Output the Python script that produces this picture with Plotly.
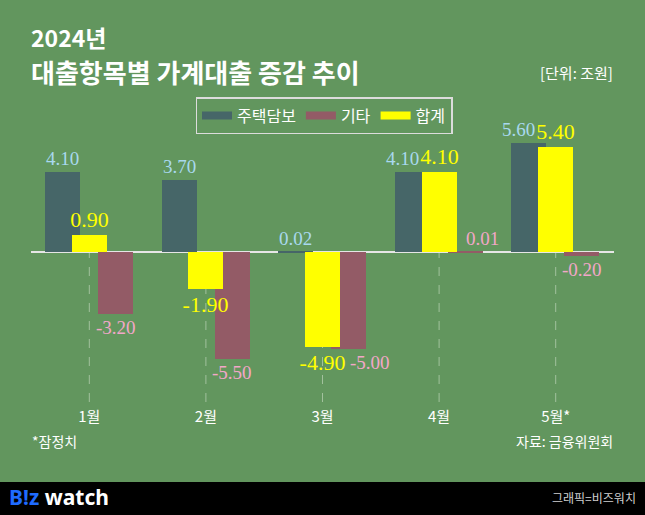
import plotly.graph_objects as go

categories = ['1월', '2월', '3월', '4월', '5월*']
mortgage = [4.10, 3.70, 0.02, 4.10, 5.60]   # 주택담보
other = [-3.20, -5.50, -5.00, 0.01, -0.20]   # 기타
total = [0.90, -1.90, -4.90, 4.10, 5.40]     # 합계
series_names = ['주택담보', '기타', '합계']

BG = '#62965e'
C_M = '#466668'
C_O = '#935b66'
C_T = '#ffff00'
T_M = '#a9d9ee'
T_O = '#f2a7c9'
T_T = '#ffff00'
KFONT = 'Noto Sans CJK KR'
NFONT = 'Liberation Serif'

W, H = 645, 515
L, R, T, B = 31, 31, 129, 113
PW = W - L - R
PH = H - T - B
YMIN, YMAX = -7.73, 6.34
BW = 0.30
OFF_M, OFF_T, OFF_O = -0.38, -0.15, 0.075
px_per_cat = PW / len(categories)
units_per_px = (YMAX - YMIN) / PH
LABEL_H = 22 * units_per_px  # approximate label height in data units


def px(xp):
    return (xp - L) / PW


def py(yp):
    return (H - B - yp) / PH


fig = go.Figure()

fig.add_trace(go.Bar(x=categories, y=mortgage, name=series_names[0], marker_color=C_M,
                     marker_line_width=0, width=BW, offset=OFF_M, showlegend=False))
fig.add_trace(go.Bar(x=categories, y=other, name=series_names[1], marker_color=C_O,
                     marker_line_width=0, width=BW, offset=OFF_O, showlegend=False))
fig.add_trace(go.Bar(x=categories, y=total, name=series_names[2], marker_color=C_T,
                     marker_line_width=0, width=BW, offset=OFF_T, showlegend=False,
                     texttemplate='%{y:.2f}', textposition='outside', constraintext='none',
                     cliponaxis=False, textfont=dict(family=NFONT, size=22, color=T_T)))

for nm, col in zip(series_names, [C_M, C_O, C_T]):
    fig.add_trace(go.Scatter(x=[None], y=[None], mode='lines', name=nm,
                             line=dict(color=col, width=8)))

annotations = []
# labels for 주택담보 bars
for c, m, t in zip(categories, mortgage, total):
    collide = m > 0 and t > 0 and abs(t - m) < 1.0
    if collide:
        xs = OFF_T * px_per_cat - 1
        xa = 'right'
    else:
        xs = (OFF_M + BW / 2) * px_per_cat
        xa = 'center'
    annotations.append(dict(x=c, y=m, xref='x', yref='y', text=f'{m:.2f}', showarrow=False,
                            xanchor=xa, yanchor='bottom', xshift=xs, yshift=1,
                            font=dict(family=NFONT, size=19, color=T_M)))


def overlap(a, b):
    return a[0] < b[1] and b[0] < a[1]


# labels for 기타 bars
for c, o, t in zip(categories, other, total):
    lab = (o, o + LABEL_H) if o >= 0 else (o - LABEL_H, o)
    ybar = (min(0, t), max(0, t))
    ylab = (t, t + LABEL_H) if t >= 0 else (t - LABEL_H, t)
    if overlap(lab, ybar) or overlap(lab, ylab):
        xs = (OFF_T + BW / 2) * px_per_cat + 25
        xa = 'left'
    else:
        xs = (OFF_O + BW / 2) * px_per_cat
        xa = 'center'
    annotations.append(dict(x=c, y=o, xref='x', yref='y', text=f'{o:.2f}', showarrow=False,
                            xanchor=xa, yanchor='bottom' if o >= 0 else 'top', xshift=xs,
                            yshift=1 if o >= 0 else -1,
                            font=dict(family=NFONT, size=19, color=T_O)))

txt = [
    ('<b>2024년</b>', 29, 37, 'left', 23, 'white'),
    ('<b>대출항목별 가계대출 증감 추이</b>', 29, 71, 'left', 26, 'white'),
    ('[단위: 조원]', 615, 72, 'right', 15, 'white'),
    ('*잠정치', 30, 441, 'left', 14, 'white'),
    ('자료: 금융위원회', 615, 441, 'right', 14, 'white'),
    ('그래픽=비즈워치', 638, 497, 'right', 12, '#d0d0d0'),
]
for s, x0, y0, xa, fs, colr in txt:
    annotations.append(dict(x=px(x0), y=py(y0), xref='paper', yref='paper', text=s,
                            showarrow=False, xanchor=xa, yanchor='middle',
                            font=dict(family=KFONT, size=fs, color=colr)))
annotations.append(dict(x=px(7), y=py(497), xref='paper', yref='paper',
                        text="<b><span style='color:#1f6bff'>B!z</span> watch</b>",
                        showarrow=False, xanchor='left', yanchor='middle',
                        font=dict(family='Noto Sans', size=21, color='white')))

shapes = []
for c in categories:
    shapes.append(dict(type='line', xref='x', yref='y', x0=c, x1=c, y0=YMIN, y1=0,
                       line=dict(color='rgba(215,230,210,0.55)', width=1, dash='dash'),
                       layer='below'))
shapes.append(dict(type='rect', xref='paper', yref='paper', x0=px(0), x1=px(W),
                   y0=py(H), y1=py(482), fillcolor='black', line_width=0, layer='above'))

fig.update_layout(
    width=W, height=H, margin=dict(l=L, r=R, t=T, b=B),
    paper_bgcolor=BG, plot_bgcolor=BG,
    barmode='overlay', bargap=0,
    showlegend=True,
    legend=dict(orientation='h', x=px(324), xanchor='center', y=py(97), yanchor='top',
                bordercolor='#dcdcdc', borderwidth=1.5, bgcolor='rgba(0,0,0,0)',
                font=dict(family=KFONT, size=16, color='white'), itemwidth=30),
    xaxis=dict(type='category', showgrid=False, zeroline=False, showline=False, ticks='',
               tickfont=dict(family=KFONT, size=15, color='white'), ticklabelstandoff=4,
               range=[-0.5, len(categories) - 0.5]),
    yaxis=dict(range=[YMIN, YMAX], showgrid=False, showticklabels=False, ticks='',
               zeroline=True, zerolinecolor='#e6e6e6', zerolinewidth=1.5, showline=False),
    annotations=annotations, shapes=shapes,
)

fig.write_html('out.html', config={'displayModeBar': False},
               post_script="document.body.style.margin='0';")
